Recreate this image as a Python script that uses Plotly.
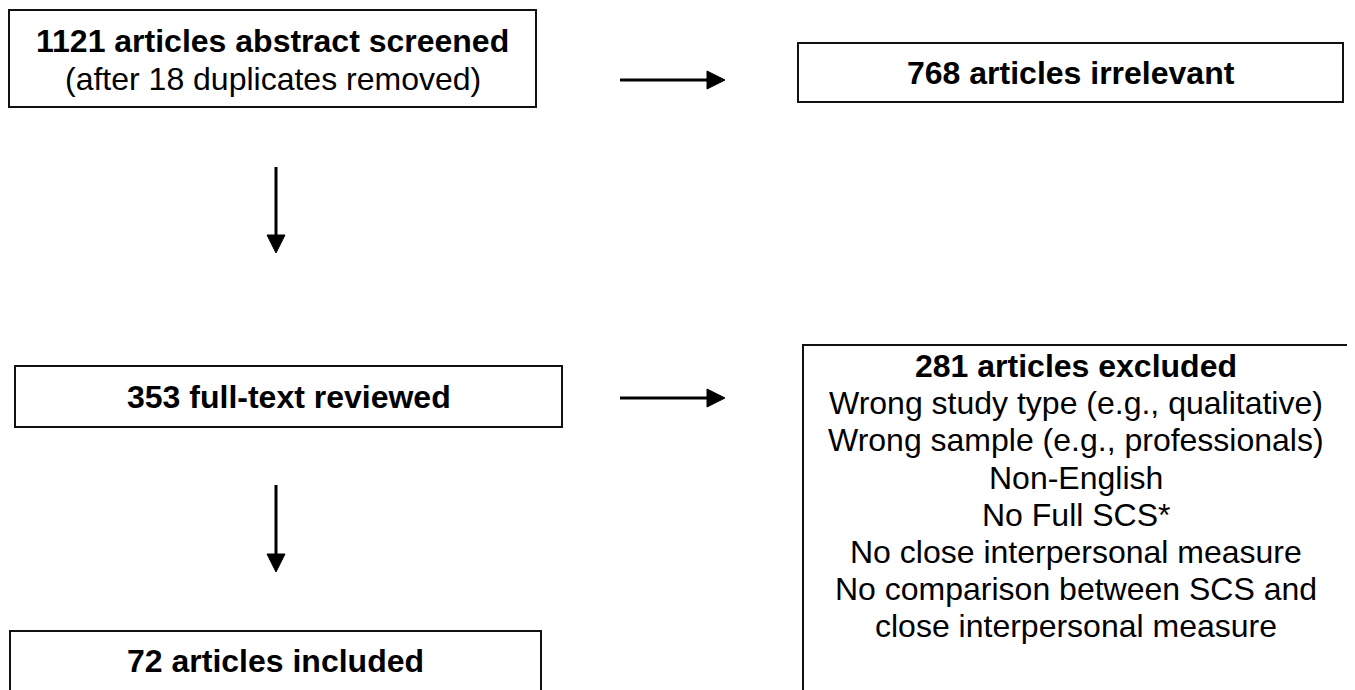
import plotly.graph_objects as go

# ---- content (text) ----
box_titles = [
    "1121 articles abstract screened",
    "768 articles irrelevant",
    "353 full-text reviewed",
    "281 articles excluded",
    "72 articles included",
]
box_sublines = [
    ["(after 18 duplicates removed)"],
    [],
    [],
    [
        "Wrong study type (e.g., qualitative)",
        "Wrong sample (e.g., professionals)",
        "Non-English",
        "No Full SCS*",
        "No close interpersonal measure",
        "No comparison between SCS and",
        "close interpersonal measure",
    ],
    [],
]

# ---- layout geometry (pixels, y downward) ----
boxes = [  # x0, y0, x1, y1, first-line y, line spacing
    (9, 10, 536, 107, 41, 38),
    (798, 43, 1343, 102, 73, 37),
    (15, 366, 562, 427, 397, 37),
    (803, 345, 1349, 700, 366, 37.2),
    (10, 631, 541, 700, 661, 37),
]
h_arrows = [(620, 725, 80), (620, 725, 398)]   # x0, x1, y
v_arrows = [(276, 167, 253), (276, 485, 572)]  # x, y0, y1

W, H = 1355, 690
OFF = 8  # page body margin offset
FONT = "Liberation Sans, Arial, Helvetica, sans-serif"
FS = 32
INK = "#111111"

fig = go.Figure()
shapes = []
annotations = []

for (x0, y0, x1, y1, ty, sp), title, subs in zip(boxes, box_titles, box_sublines):
    shapes.append(dict(type="rect", xref="x", yref="y", x0=x0, y0=y0, x1=x1, y1=y1,
                       line=dict(color=INK, width=2), fillcolor="white", layer="below"))
    cx = (x0 + x1) / 2
    annotations.append(dict(x=cx, y=ty, xref="x", yref="y", text="<b>" + title + "</b>",
                            showarrow=False, font=dict(family=FONT, size=FS, color="black"),
                            xanchor="center", yanchor="middle"))
    for i, s in enumerate(subs):
        annotations.append(dict(x=cx, y=ty + sp * (i + 1), xref="x", yref="y", text=s,
                                showarrow=False, font=dict(family=FONT, size=FS, color="black"),
                                xanchor="center", yanchor="middle"))

HL, HW = 18, 9
for x0, x1, y in h_arrows:
    shapes.append(dict(type="line", xref="x", yref="y", x0=x0, y0=y, x1=x1 - HL + 2, y1=y,
                       line=dict(color="black", width=3)))
    shapes.append(dict(type="path", xref="x", yref="y",
                       path=f"M {x1-HL},{y-HW} L {x1},{y} L {x1-HL},{y+HW} Z",
                       fillcolor="black", line=dict(color="black", width=1)))
for x, y0, y1 in v_arrows:
    shapes.append(dict(type="line", xref="x", yref="y", x0=x, y0=y0, x1=x, y1=y1 - HL + 2,
                       line=dict(color="black", width=3)))
    shapes.append(dict(type="path", xref="x", yref="y",
                       path=f"M {x-HW},{y1-HL} L {x},{y1} L {x+HW},{y1-HL} Z",
                       fillcolor="black", line=dict(color="black", width=1)))

fig.update_layout(
    width=W, height=H,
    margin=dict(l=0, r=0, t=0, b=0),
    paper_bgcolor="white", plot_bgcolor="white",
    xaxis=dict(range=[OFF, W + OFF], visible=False, fixedrange=True),
    yaxis=dict(range=[H + OFF, OFF], visible=False, fixedrange=True),
    shapes=shapes, annotations=annotations, showlegend=False,
)
fig.write_html("out.html")
